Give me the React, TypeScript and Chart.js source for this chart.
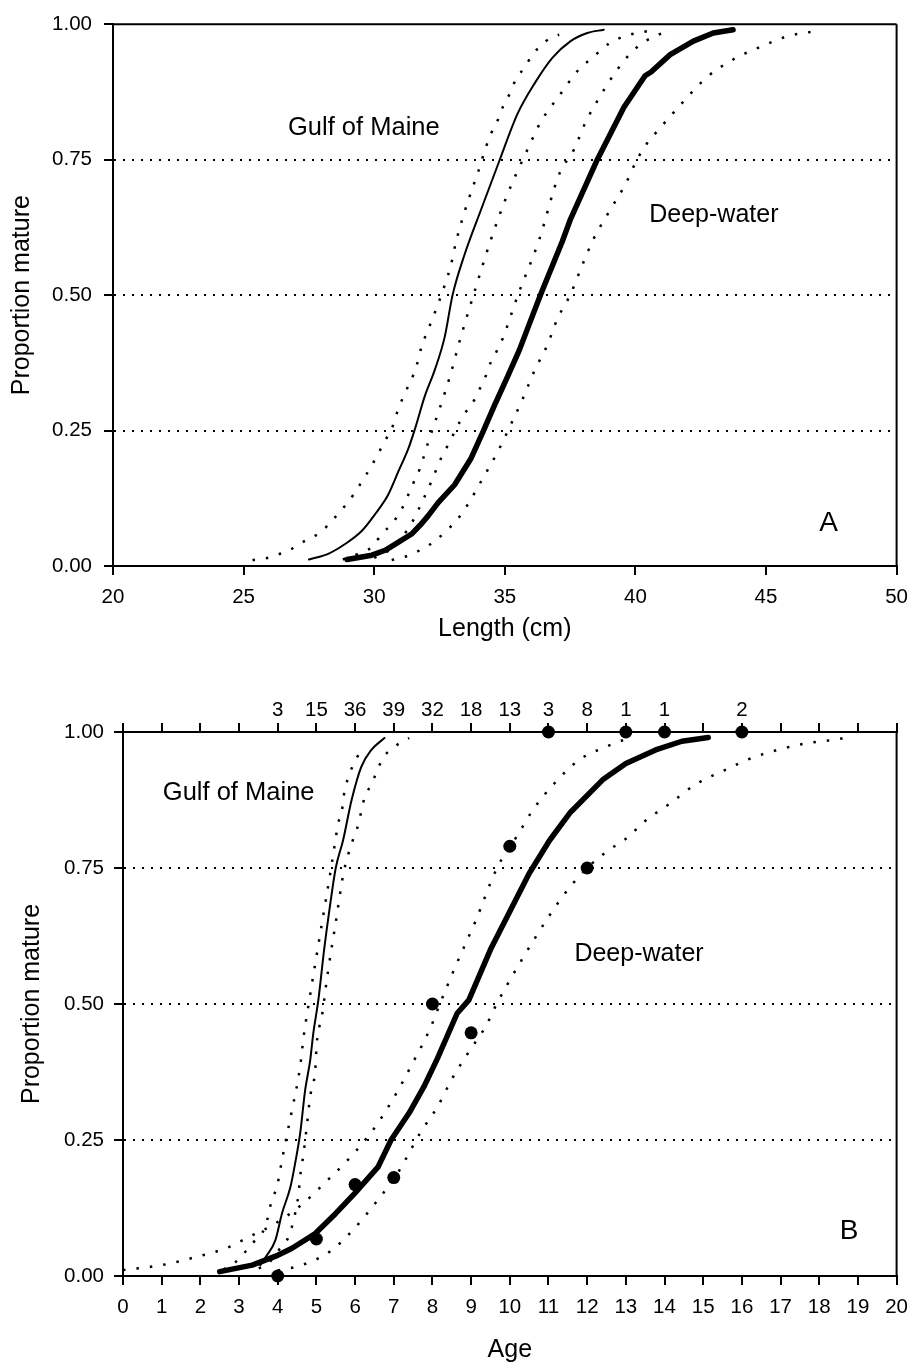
import React, { useEffect, useRef } from "react";
import { Chart, registerables } from "chart.js";

Chart.register(...registerables);

const FONT = "'Liberation Sans', Arial, Helvetica, sans-serif";

// ---------- Panel A: proportion mature by length (cm) ----------
const gomLenX = [27.5, 28.26, 28.9, 29.53, 30.04, 30.54, 30.93, 31.31, 31.56, 31.94, 32.32, 32.7, 33.0, 33.46, 34.1, 34.8, 35.49, 36.13, 36.82, 37.52, 38.16, 38.79];
const gomLenP = [0.012, 0.023, 0.041, 0.065, 0.096, 0.132, 0.175, 0.217, 0.253, 0.314, 0.362, 0.423, 0.5, 0.575, 0.659, 0.749, 0.835, 0.89, 0.938, 0.969, 0.984, 0.99];

const gomLenLoX = [25.34, 25.85, 26.42, 26.86, 27.37, 27.94, 28.39, 28.83, 29.21, 29.53, 29.85, 30.16, 30.42, 30.67, 30.86, 31.05, 31.3, 31.5, 31.69, 31.81, 32.0, 32.3, 32.64, 32.94, 33.13, 33.5, 33.78, 33.97, 34.29, 34.48, 34.73, 34.92, 35.18, 35.43, 35.75, 36.06, 36.57, 37.08];
const gomLenLoP = [0.011, 0.014, 0.023, 0.032, 0.047, 0.062, 0.084, 0.108, 0.132, 0.156, 0.181, 0.208, 0.232, 0.253, 0.281, 0.305, 0.332, 0.353, 0.381, 0.405, 0.429, 0.465, 0.51, 0.556, 0.598, 0.66, 0.7, 0.726, 0.775, 0.799, 0.823, 0.847, 0.871, 0.899, 0.92, 0.944, 0.969, 0.981];

const gomLenHiX = [28.8, 29.5, 29.91, 30.29, 30.73, 31.05, 31.31, 31.5, 31.75, 32.07, 32.57, 32.9, 33.3, 33.8, 34.45, 35.05, 35.43, 35.87, 36.38, 37.08, 37.84, 38.35, 39.0, 39.8, 40.44];
const gomLenHiP = [0.012, 0.025, 0.035, 0.059, 0.081, 0.105, 0.132, 0.153, 0.18, 0.229, 0.3, 0.35, 0.42, 0.5, 0.6, 0.68, 0.723, 0.769, 0.82, 0.868, 0.917, 0.938, 0.965, 0.981, 0.987];

const deepLenX = [28.96, 29.91, 30.42, 30.93, 31.43, 31.81, 32.07, 32.45, 33.08, 33.71, 34.16, 34.6, 35.11, 35.56, 35.94, 36.38, 37.2, 37.52, 38.54, 39.56, 40.37, 40.6, 41.33, 42.22, 42.98, 43.74];
const deepLenP = [0.012, 0.02, 0.029, 0.044, 0.059, 0.078, 0.093, 0.117, 0.15, 0.199, 0.247, 0.296, 0.35, 0.399, 0.447, 0.502, 0.599, 0.641, 0.75, 0.847, 0.905, 0.912, 0.944, 0.969, 0.984, 0.99];

const deepLenLoX = [30.0, 30.6, 31.1, 31.5, 31.85, 32.19, 32.57, 32.89, 33.13, 33.46, 33.78, 34.03, 34.29, 34.48, 34.73, 34.92, 35.5, 36.3, 37.08, 37.65, 38.1, 38.66, 39.36, 40.0, 40.88, 41.4];
const deepLenLoP = [0.015, 0.03, 0.055, 0.085, 0.12, 0.156, 0.2, 0.229, 0.253, 0.281, 0.302, 0.326, 0.353, 0.378, 0.4, 0.42, 0.5, 0.6, 0.723, 0.769, 0.82, 0.868, 0.92, 0.955, 0.981, 0.986];

const deepLenHiX = [30.67, 31.18, 31.75, 32.26, 32.7, 33.2, 33.59, 34.16, 34.73, 35.24, 35.68, 36.13, 36.63, 37.01, 37.52, 37.97, 38.41, 38.98, 39.62, 40.06, 40.44, 40.88, 41.7, 42.73, 43.74, 44.82, 45.83, 46.85];
const deepLenHiP = [0.011, 0.017, 0.029, 0.044, 0.062, 0.087, 0.114, 0.162, 0.211, 0.262, 0.308, 0.36, 0.408, 0.456, 0.502, 0.556, 0.605, 0.653, 0.705, 0.75, 0.78, 0.805, 0.85, 0.902, 0.935, 0.959, 0.978, 0.987];

// ---------- Panel B: proportion mature by age ----------
const gomAgeX = [3.55, 3.69, 3.94, 4.11, 4.33, 4.45, 4.58, 4.71, 4.84, 4.92, 5.05, 5.2, 5.35, 5.5, 5.69, 5.91, 6.16, 6.42, 6.76];
const gomAgeP = [0.02, 0.035, 0.066, 0.115, 0.164, 0.207, 0.262, 0.342, 0.397, 0.446, 0.507, 0.6, 0.68, 0.75, 0.801, 0.875, 0.936, 0.967, 0.989];

const gomAgeLoX = [2.6, 2.9, 3.17, 3.42, 3.68, 3.85, 3.98, 4.11, 4.28, 4.37, 4.58, 4.67, 4.8, 5.1, 5.38, 5.52, 5.56, 5.65, 5.73, 5.82, 5.91, 6.04, 6.21];
const gomAgeLoP = [0.012, 0.025, 0.045, 0.066, 0.091, 0.14, 0.164, 0.213, 0.274, 0.305, 0.385, 0.44, 0.5, 0.63, 0.75, 0.814, 0.832, 0.851, 0.893, 0.915, 0.933, 0.952, 0.973];

const gomAgeHiX = [3.51, 3.77, 4.03, 4.28, 4.41, 4.54, 4.58, 4.67, 4.75, 4.84, 4.97, 5.01, 5.14, 5.3, 5.5, 5.7, 5.95, 6.08, 6.16, 6.24, 6.42, 6.55, 6.72, 7.02, 7.4];
const gomAgeHiP = [0.014, 0.024, 0.048, 0.072, 0.103, 0.152, 0.183, 0.226, 0.274, 0.33, 0.379, 0.428, 0.477, 0.56, 0.65, 0.74, 0.803, 0.829, 0.854, 0.878, 0.904, 0.925, 0.952, 0.973, 0.989];

const deepAgeX = [2.5, 3.34, 4.0, 4.37, 4.97, 5.5, 5.99, 6.59, 6.93, 7.4, 7.78, 8.13, 8.64, 8.94, 9.5, 10.0, 10.5, 11.03, 11.55, 12.4, 13.0, 13.77, 14.45, 15.13];
const deepAgeP = [0.008, 0.02, 0.038, 0.051, 0.078, 0.115, 0.152, 0.2, 0.25, 0.3, 0.348, 0.4, 0.483, 0.507, 0.6, 0.67, 0.74, 0.801, 0.851, 0.912, 0.942, 0.967, 0.983, 0.99];

const deepAgeLoX = [0.0, 1.0, 1.89, 2.66, 3.26, 3.9, 4.6, 5.39, 5.73, 6.33, 6.59, 7.02, 7.44, 7.96, 8.13, 8.6, 9.1, 9.67, 10.18, 10.6, 11.12, 11.8, 12.49, 13.08];
const deepAgeLoP = [0.011, 0.02, 0.035, 0.051, 0.072, 0.095, 0.13, 0.183, 0.207, 0.256, 0.281, 0.33, 0.385, 0.458, 0.489, 0.57, 0.65, 0.75, 0.808, 0.857, 0.903, 0.949, 0.973, 0.989];

const deepAgeHiX = [4.0, 4.62, 5.35, 5.99, 6.59, 7.1, 7.7, 8.13, 8.51, 8.94, 9.41, 9.58, 10.3, 11.0, 11.5, 12.0, 12.5, 13.08, 13.42, 14.15, 14.79, 15.56, 16.25, 16.92, 17.65, 18.3, 18.68];
const deepAgeHiP = [0.01, 0.02, 0.045, 0.088, 0.14, 0.189, 0.265, 0.311, 0.363, 0.412, 0.463, 0.489, 0.58, 0.66, 0.71, 0.75, 0.78, 0.808, 0.832, 0.869, 0.903, 0.93, 0.952, 0.967, 0.979, 0.985, 0.989];

const obsAges = [4, 5, 6, 7, 8, 9, 10, 11, 12, 13, 14, 16];
const obsProp = [0.0, 0.068, 0.168, 0.181, 0.5, 0.447, 0.79, 1.0, 0.75, 1.0, 1.0, 1.0];
const obsCounts = [3, 15, 36, 39, 32, 18, 13, 3, 8, 1, 1, 2];

// ---------- helpers ----------
const pts = (xs: number[], ys: number[]) => xs.map((x, i) => ({ x, y: ys[i] }));

const solid = (xs: number[], ys: number[], w: number, smooth: boolean) => ({
  data: pts(xs, ys),
  showLine: true,
  borderColor: "#000",
  borderWidth: w,
  pointRadius: 0,
  tension: smooth ? 0.4 : 0,
  cubicInterpolationMode: smooth ? "monotone" : "default",
  borderCapStyle: "round",
  borderJoinStyle: "round",
});

const dotted = (xs: number[], ys: number[]) => ({
  data: pts(xs, ys),
  showLine: true,
  borderColor: "#000",
  borderWidth: 2.5,
  borderDash: [2.5, 11],
  borderCapStyle: "butt",
  pointRadius: 0,
  tension: 0.4,
  cubicInterpolationMode: "monotone",
});

type Label = { text: string; x: number; y: number; size: number; align: CanvasTextAlign };

const labelsPlugin = (labels: Label[]) => ({
  id: "panelLabels",
  afterDatasetsDraw(chart: any) {
    const { ctx, scales } = chart;
    ctx.save();
    ctx.fillStyle = "#000";
    ctx.textBaseline = "alphabetic";
    labels.forEach((l) => {
      ctx.font = `${l.size}px ${FONT}`;
      ctx.textAlign = l.align;
      const px = scales.x.getPixelForValue(l.x);
      const py = scales.y.getPixelForValue(l.y) + 0.358 * l.size;
      ctx.fillText(l.text, px, py);
    });
    ctx.restore();
  },
});

const framePlugin = (drawTop: boolean) => ({
  id: "frame",
  afterDraw(chart: any) {
    const { ctx, chartArea } = chart;
    ctx.save();
    ctx.strokeStyle = "#000";
    ctx.lineWidth = 2;
    ctx.beginPath();
    if (drawTop) {
      ctx.moveTo(chartArea.left, chartArea.top);
      ctx.lineTo(chartArea.right, chartArea.top);
    }
    ctx.moveTo(chartArea.right, chartArea.top);
    ctx.lineTo(chartArea.right, chartArea.bottom);
    ctx.stroke();
    ctx.restore();
  },
});

const yAxis = (width: number, labelPad: number, titlePad: number) => ({
  type: "linear",
  min: 0,
  max: 1,
  ticks: {
    stepSize: 0.25,
    color: "#000",
    padding: labelPad,
    font: { family: FONT, size: 20.5 },
    callback: (v: any) => Number(v).toFixed(2),
  },
  grid: {
    color: (c: any) => (c.tick && (c.tick.value === 0 || c.tick.value === 1) ? "rgba(0,0,0,0)" : "#000"),
    lineWidth: 2,
    tickColor: "#000",
    tickWidth: 2,
    tickLength: 9,
    tickBorderDash: [],
  },
  border: { display: true, color: "#000", width: 2, dash: [2, 7] },
  title: {
    display: true,
    text: "Proportion mature",
    color: "#000",
    font: { family: FONT, size: 25 },
    padding: { top: titlePad, bottom: 0 },
  },
  afterFit: (s: any) => {
    s.width = width;
  },
});

const xGrid = {
  drawOnChartArea: false,
  drawTicks: true,
  color: "#000",
  lineWidth: 2,
  tickColor: "#000",
  tickWidth: 2,
  tickLength: 9,
};

function configA(): any {
  return {
    type: "scatter",
    data: {
      datasets: [
        dotted(gomLenLoX, gomLenLoP),
        dotted(gomLenHiX, gomLenHiP),
        dotted(deepLenLoX, deepLenLoP),
        dotted(deepLenHiX, deepLenHiP),
        solid(gomLenX, gomLenP, 2, true),
        solid(deepLenX, deepLenP, 5.5, false),
      ],
    },
    options: {
      responsive: false,
      animation: false,
      events: [],
      layout: { padding: { left: 0, right: 17, top: 16, bottom: 0 } },
      plugins: { legend: { display: false }, tooltip: { enabled: false } },
      scales: {
        x: {
          type: "linear",
          position: "bottom",
          min: 20,
          max: 50,
          ticks: {
            stepSize: 5,
            autoSkip: false,
            maxRotation: 0,
            color: "#000",
            padding: 10,
            font: { family: FONT, size: 20.5 },
          },
          grid: xGrid,
          border: { display: true, color: "#000", width: 2 },
          title: {
            display: true,
            text: "Length (cm)",
            color: "#000",
            font: { family: FONT, size: 25 },
            padding: { top: 0, bottom: 16 },
          },
          afterFit: (s: any) => {
            s.height = 94;
          },
        },
        y: yAxis(113, 12, 7),
      },
    },
    plugins: [
      framePlugin(true),
      labelsPlugin([
        { text: "Gulf of Maine", x: 26.7, y: 0.813, size: 25.5, align: "left" },
        { text: "Deep-water", x: 40.53, y: 0.652, size: 25, align: "left" },
        { text: "A", x: 47.4, y: 0.084, size: 28, align: "center" },
      ]),
    ],
  };
}

function configB(): any {
  return {
    type: "scatter",
    data: {
      datasets: [
        dotted(gomAgeLoX, gomAgeLoP),
        dotted(gomAgeHiX, gomAgeHiP),
        dotted(deepAgeLoX, deepAgeLoP),
        dotted(deepAgeHiX, deepAgeHiP),
        solid(gomAgeX, gomAgeP, 2, true),
        solid(deepAgeX, deepAgeP, 5.5, false),
        {
          data: pts(obsAges, obsProp),
          showLine: false,
          pointRadius: 6.5,
          pointBackgroundColor: "#000",
          pointBorderWidth: 0,
          clip: false,
        },
      ],
    },
    options: {
      responsive: false,
      animation: false,
      events: [],
      layout: { padding: { left: 0, right: 15, top: 0, bottom: 0 } },
      plugins: { legend: { display: false }, tooltip: { enabled: false } },
      scales: {
        x: {
          type: "linear",
          position: "bottom",
          min: 0,
          max: 20,
          ticks: {
            stepSize: 1,
            autoSkip: false,
            maxRotation: 0,
            color: "#000",
            padding: 10,
            font: { family: FONT, size: 20.5 },
          },
          grid: xGrid,
          border: { display: true, color: "#000", width: 2 },
          title: {
            display: true,
            text: "Age",
            color: "#000",
            font: { family: FONT, size: 25 },
            padding: { top: 0, bottom: 5 },
          },
          afterFit: (s: any) => {
            s.height = 94;
          },
        },
        x2: {
          type: "linear",
          axis: "x",
          position: "top",
          min: 0,
          max: 20,
          ticks: {
            stepSize: 1,
            autoSkip: false,
            maxRotation: 0,
            color: "#000",
            padding: 0,
            font: { family: FONT, size: 20.5 },
            callback: (v: any) => {
              const i = obsAges.indexOf(Number(v));
              return i >= 0 ? String(obsCounts[i]) : "";
            },
          },
          grid: xGrid,
          border: { display: true, color: "#000", width: 2 },
          afterFit: (s: any) => {
            s.height = 72;
          },
        },
        y: yAxis(123, 10, 17),
      },
    },
    plugins: [
      framePlugin(false),
      labelsPlugin([
        { text: "Gulf of Maine", x: 1.03, y: 0.892, size: 25.5, align: "left" },
        { text: "Deep-water", x: 11.67, y: 0.596, size: 25, align: "left" },
        { text: "B", x: 18.77, y: 0.086, size: 28, align: "center" },
      ]),
    ],
  };
}

export default function App() {
  const topRef = useRef<HTMLCanvasElement>(null);
  const botRef = useRef<HTMLCanvasElement>(null);

  useEffect(() => {
    Chart.defaults.font.family = FONT;
    const a = new Chart(topRef.current as HTMLCanvasElement, configA());
    const b = new Chart(botRef.current as HTMLCanvasElement, configB());
    return () => {
      a.destroy();
      b.destroy();
    };
  }, []);

  return (
    <div style={{ position: "absolute", left: 0, top: 0, width: 918, height: 1370, background: "#fff" }}>
      <canvas
        ref={topRef}
        width={918}
        height={660}
        style={{ position: "absolute", left: 0, top: 0, width: 918, height: 660, display: "block" }}
      />
      <canvas
        ref={botRef}
        width={918}
        height={710}
        style={{ position: "absolute", left: 0, top: 660, width: 918, height: 710, display: "block" }}
      />
    </div>
  );
}
